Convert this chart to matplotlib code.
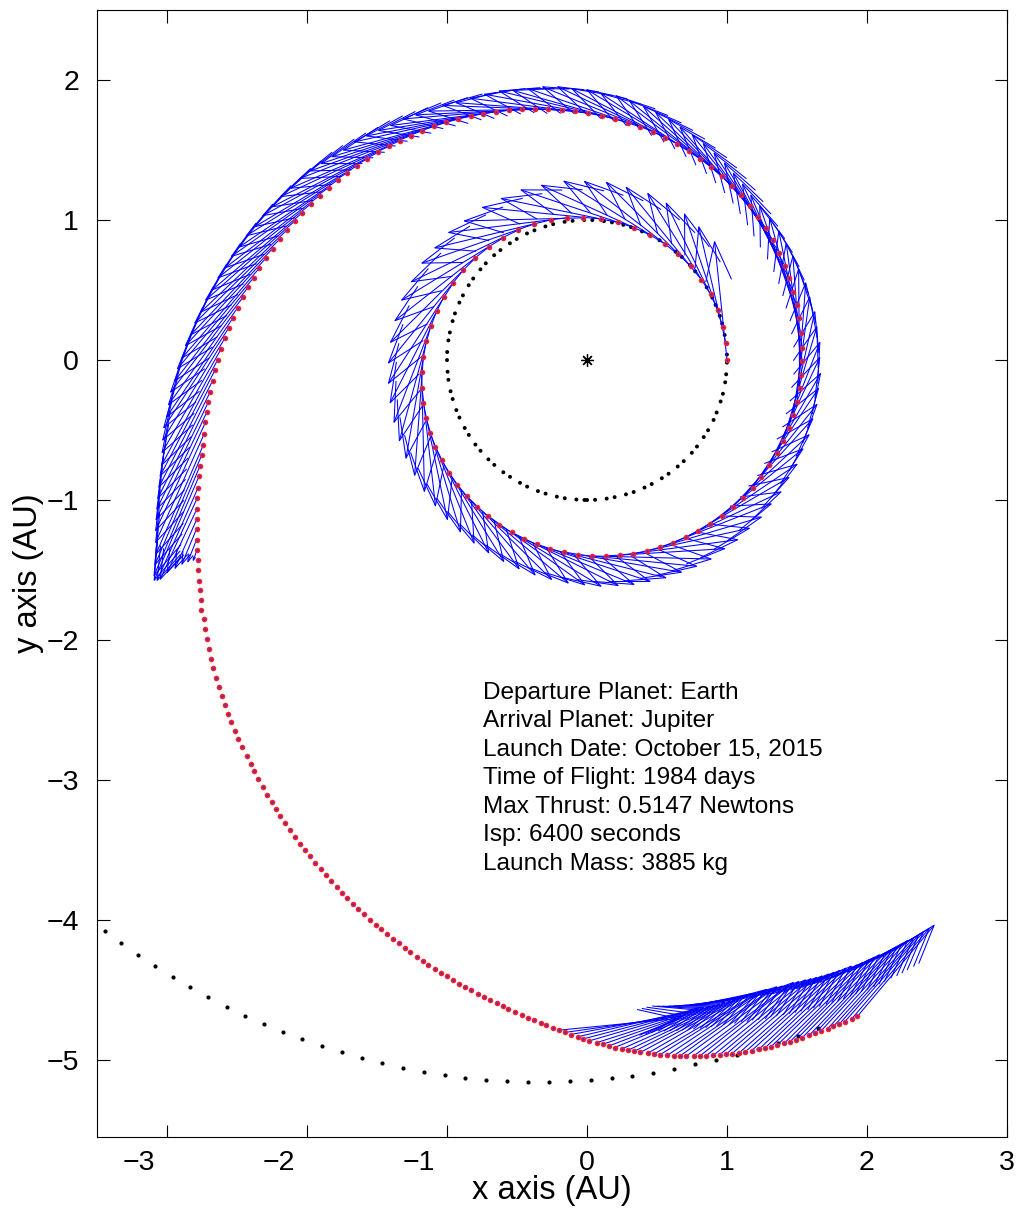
import matplotlib
matplotlib.use("Agg")
import matplotlib.pyplot as plt
from matplotlib.collections import LineCollection
from matplotlib.patches import Circle
from matplotlib.transforms import ScaledTranslation
import numpy as np

plt.rcParams['font.family'] = ['Liberation Sans', 'DejaVu Sans']
plt.rcParams['lines.scale_dashes'] = False

# --- spacecraft track, one entry per 7-day step -------------------------
# outbound spiral (thrusting): polar angle [deg, unwrapped] and radius [AU]
out_theta = [0.0, 7.1, 13.8, 20.8, 27.9, 35.1, 42.1, 49.1, 56.1, 63.4, 70.5, 77.4, 84.4, 91.5,
             98.1, 104.6, 111.2, 117.8, 124.5, 131.1, 137.8, 144.1, 150.2, 156.1, 162.0, 167.7,
             173.2, 178.8, 184.3, 189.5, 194.7, 199.8, 204.8, 209.7,
             214.5, 219.2, 223.9, 228.5, 233.1, 237.5, 241.9, 246.4, 250.6, 254.8, 259.0, 263.2,
             267.4, 271.5, 275.5, 279.5, 283.4, 287.5,
             291.4, 295.3, 299.2, 303.1, 307.0, 310.9, 314.8, 318.6, 322.4, 326.2, 330.0, 333.8,
             337.6, 341.4, 345.1, 348.8, 352.5, 356.1, 359.7, 363.3, 367.2, 371.1,
             374.7, 378.3, 382.0, 385.5, 389.2, 392.8, 396.3, 399.9, 403.3, 406.9, 410.2, 413.8,
             417.2, 420.6, 424.0, 427.3, 430.6, 433.9, 437.1, 440.3, 443.4, 446.6, 449.7, 452.8, 455.8,
             458.9, 461.8, 464.6, 467.4, 470.1, 472.8, 475.5, 478.1, 480.7, 483.2, 485.7, 488.1,
             490.5, 492.9, 495.2, 497.5, 499.8, 502.0, 504.2, 506.3, 508.4, 510.5, 512.6, 514.6,
             516.6, 518.6, 520.5, 522.4, 524.3, 526.1, 527.9, 529.7, 531.5, 533.2, 534.9, 536.6,
             538.3, 540.0,
             541.6, 543.2, 544.8, 546.3, 547.8, 549.3, 550.9, 552.5, 553.9, 555.3, 556.7, 558.2,
             559.5, 560.9, 562.2, 563.4, 564.7, 566.0]
out_r = [1.000, 0.999, 0.999, 1.001, 1.000, 0.998, 0.998, 0.997, 0.998, 1.000, 1.003, 1.007, 1.012, 1.016,
         1.026, 1.034, 1.042, 1.050, 1.058, 1.069, 1.080, 1.092, 1.103, 1.117, 1.129, 1.142,
         1.156, 1.169, 1.184, 1.195, 1.209, 1.222, 1.236, 1.248,
         1.261, 1.274, 1.287, 1.297, 1.310, 1.319, 1.334, 1.343, 1.356, 1.364, 1.375, 1.381,
         1.392, 1.400, 1.406, 1.414, 1.423, 1.430,
         1.437, 1.444, 1.451, 1.458, 1.465, 1.472, 1.479, 1.486, 1.493, 1.499, 1.505, 1.511,
         1.516, 1.521, 1.525, 1.529, 1.532, 1.535, 1.537, 1.539, 1.540, 1.541,
         1.549, 1.553, 1.558, 1.566, 1.573, 1.580, 1.588, 1.592, 1.603, 1.612, 1.620, 1.629,
         1.640, 1.648, 1.661, 1.672, 1.683, 1.698, 1.707, 1.720, 1.733, 1.748, 1.762, 1.778, 1.795,
         1.813, 1.831, 1.850, 1.870, 1.889, 1.909, 1.930, 1.951, 1.973, 1.994, 2.016, 2.037,
         2.059, 2.082, 2.104, 2.127, 2.150, 2.173, 2.196, 2.219, 2.242, 2.265, 2.289, 2.312,
         2.336, 2.359, 2.383, 2.406, 2.430, 2.452, 2.476, 2.499, 2.523, 2.546, 2.569, 2.592,
         2.615, 2.639,
         2.659, 2.679, 2.700, 2.720, 2.741, 2.762, 2.784, 2.807, 2.836, 2.866, 2.894, 2.925,
         2.953, 2.983, 3.011, 3.039, 3.070, 3.100]
# thrust pitch above the local horizontal [deg], + = outward
out_pitch = [-6, -6, -5, -5, -4, -4, -3, -3, -2, -2, -1, -1, 0, 0,
             1, 1, 2, 2, 3, 3, 3, 3, 3, 3, 3, 3, 3, 3, 3, 3, 3, 3, 3, 3,
             3, 3, 3, 3, 3, 3, 3, 3, 3, 3, 3, 3, 3, 3, 2, 2, 1, 1,
             0, 0, -1, -1, -2, -2, -3, -3, -4, -4, -5, -5, -6, -6, -7, -7, -8, -8, -8, -8, -8, -8,
             -8, -7, -6, -5, -4, -3, -2, -1, 0, 1, 2, 3,
             4, 4, 5, 5, 6, 6, 6, 6, 7, 7, 7, 7, 8,
             8, 9, 10, 10, 11, 12, 13, 13, 14, 15, 16, 17, 17, 18, 18, 19, 19, 20, 20, 21,
             21, 22, 22, 23, 23, 24, 24, 25, 25, 26, 26, 27, 27, 27, 28, 28, 28, 28,
             29, 30, 31, 32, 33, 34, 35, 36, 37, 38, 40, 42, 44, 46, 46, 46, 46, 46]
# thrust level (fraction of full), engine throttles down before the coast
out_throttle = [1.0] * 147 + [0.95, 0.85, 0.75, 0.59, 0.45, 0.32, 0.20, 0.09]

# ballistic coast out to Jupiter distance
coast_theta = [207.2, 208.4, 209.6, 210.7, 211.8, 212.9, 214.0, 215.2, 216.3, 217.4, 218.5, 219.5,
               220.6, 221.6, 222.6, 223.6, 224.6, 225.5, 226.5, 227.4, 228.3, 229.3, 230.2, 231.0,
               231.9, 232.8, 233.6, 234.5, 235.3, 236.1, 236.9, 237.7, 238.5, 239.3, 240.1, 240.8,
               241.6, 242.4, 243.1, 243.8, 244.6, 245.3, 246.0, 246.7, 247.4, 248.1, 248.8, 249.5,
               250.1, 250.8, 251.5, 252.1, 252.8, 253.4, 254.1, 254.7, 255.3, 256.0, 256.6, 257.2,
               257.8, 258.4, 259.0, 259.6, 260.2, 260.8, 261.4, 262.0, 262.6, 263.1, 263.7, 264.3,
               264.9, 265.4, 266.0, 266.5, 267.1]
coast_r = [3.128, 3.159, 3.190, 3.218, 3.248, 3.284, 3.304, 3.336, 3.368, 3.399, 3.429, 3.459,
           3.489, 3.517, 3.545, 3.572, 3.599, 3.626, 3.652, 3.678, 3.703, 3.729, 3.754, 3.780,
           3.807, 3.832, 3.856, 3.880, 3.904, 3.928, 3.951, 3.974, 3.996, 4.018, 4.041, 4.062,
           4.084, 4.105, 4.126, 4.148, 4.168, 4.189, 4.210, 4.230, 4.249, 4.268, 4.287, 4.306,
           4.324, 4.343, 4.361, 4.379, 4.397, 4.415, 4.432, 4.449, 4.466, 4.482, 4.498, 4.515,
           4.531, 4.547, 4.563, 4.578, 4.594, 4.609, 4.624, 4.639, 4.655, 4.671, 4.686, 4.701,
           4.716, 4.730, 4.745, 4.760, 4.776]

# arrival arc (thrusting again)
arr_theta = [267.6, 268.1, 268.6, 269.2, 269.7, 270.2, 270.8, 271.3,
             271.8, 272.3, 272.9, 273.4, 273.9, 274.4, 275.0, 275.5, 276.0, 276.6,
             277.1, 277.6, 278.1, 278.7, 279.2, 279.7, 280.3, 280.8, 281.3, 281.8, 282.4,
             282.9, 283.4, 284.0, 284.5, 285.0, 285.5, 286.1, 286.6, 287.1, 287.6, 288.2,
             288.7, 289.2, 289.8, 290.3, 290.8, 291.3, 291.9, 292.4]
arr_r = [4.791, 4.806, 4.820, 4.835, 4.849, 4.863, 4.877, 4.890,
         4.903, 4.915, 4.927, 4.939, 4.950, 4.961, 4.971, 4.981, 4.990, 4.999,
         5.008, 5.016, 5.023, 5.030, 5.037, 5.043, 5.048, 5.053, 5.058, 5.062, 5.066,
         5.069, 5.072, 5.074, 5.076, 5.078, 5.079, 5.080, 5.080, 5.080, 5.080, 5.079,
         5.078, 5.077, 5.076, 5.075, 5.074, 5.072, 5.071, 5.070]
arr_pitch = [-8, -10, -12, -14, -15, -16, -17, -18,
             -19, -20, -21, -22, -23, -24, -25, -25, -26, -27,
             -27, -28, -28, -28, -29, -29, -29, -29, -29, -29, -29,
             -29, -29, -29, -29, -28.5, -28.5, -28.5, -28.5, -28.5, -28, -28,
             -28, -28, -28, -27.5, -27.5, -27.5, -27.5, -27.5]
arr_throttle = [1.0] * len(arr_theta)

# Jupiter positions over the flight [AU]
jup_x = [-3.443, -3.326, -3.207, -3.086, -2.959, -2.834, -2.705, -2.574, -2.443, -2.307, -2.171,
         -2.034, -1.893, -1.750, -1.607, -1.464, -1.315, -1.166, -1.017, -0.868, -0.719, -0.570,
         -0.421, -0.272, -0.123, 0.026, 0.175, 0.324, 0.473, 0.622, 0.773, 0.923, 1.071, 1.219,
         1.364, 1.506, 1.648]
jup_y = [-4.076, -4.162, -4.248, -4.329, -4.407, -4.481, -4.552, -4.619, -4.684, -4.745, -4.800,
         -4.852, -4.900, -4.945, -4.988, -5.024, -5.056, -5.085, -5.109, -5.127, -5.141, -5.151,
         -5.156, -5.157, -5.153, -5.145, -5.131, -5.113, -5.090, -5.062, -5.030, -4.998, -4.962,
         -4.922, -4.877, -4.826, -4.772]
earth_radius = 1.0

info = ["Departure Planet: Earth",
        "Arrival Planet: Jupiter",
        "Launch Date: October 15, 2015",
        "Time of Flight: 1984 days",
        "Max Thrust: 0.5147 Newtons",
        "Isp: 6400 seconds",
        "Launch Mass: 3885 kg"]

VEC_LEN = 0.85   # plotted length of a full-thrust vector [AU]


def polar_xy(theta_deg, r):
    t = np.radians(theta_deg)
    r = np.asarray(r)
    return r * np.cos(t), r * np.sin(t)


def thrust_uv(theta_deg, pitch_deg, throttle):
    t = np.radians(theta_deg)
    p = np.radians(pitch_deg)
    k = VEC_LEN * np.asarray(throttle)
    # local horizontal (direction of motion) and radial unit vectors
    hx, hy = -np.sin(t), np.cos(t)
    rx, ry = np.cos(t), np.sin(t)
    u = k * (np.cos(p) * hx + np.sin(p) * rx)
    v = k * (np.cos(p) * hy + np.sin(p) * ry)
    return u, v


def quiver_segments(x, y, u, v, alpha=0.33, beta=0.33):
    """shaft plus two barbs per vector, like matlab's quiver"""
    segs = []
    for x0, y0, du, dv in zip(x, y, u, v):
        tx, ty = x0 + du, y0 + dv
        segs.append([(x0, y0), (tx, ty)])
        segs.append([(tx - alpha * (du + beta * dv), ty - alpha * (dv - beta * du)),
                     (tx, ty),
                     (tx - alpha * (du - beta * dv), ty - alpha * (dv + beta * du))])
    return segs


fig = plt.figure(figsize=(10.2, 12.18), dpi=100)
ax = fig.add_axes([97 / 1020, 81 / 1218, 910 / 1020, 1127 / 1218])

# earth orbit, dotted
earth = Circle((0, 0), earth_radius, fill=False, ec='black', lw=2.9,
               linestyle=(0, (0.01, 5.8, 0.01, 8.4)), zorder=2)
earth.set_capstyle('round')
ax.add_patch(earth)

ax.plot(jup_x, jup_y, 'o', color='black', ms=3.0, mec='none', zorder=2)
ax.plot([0], [0], marker=(8, 2, 0), color='black', ms=9, mew=0.9, zorder=3)

ox, oy = polar_xy(out_theta, out_r)
cx, cy = polar_xy(coast_theta, coast_r)
ax_, ay_ = polar_xy(arr_theta, arr_r)

ou, ov = thrust_uv(out_theta, out_pitch, out_throttle)
au, av = thrust_uv(arr_theta, arr_pitch, arr_throttle)
segs = quiver_segments(ox, oy, ou, ov) + quiver_segments(ax_, ay_, au, av)
ax.add_collection(LineCollection(segs, colors='#0000ff', linewidths=0.75, zorder=4))

tx = np.concatenate([ox, cx, ax_])
ty = np.concatenate([oy, cy, ay_])
ax.plot(tx, ty, 'o', color='#ff2020', ms=4.0, mec='none', zorder=5)
ax.plot(tx, ty, 'o', color='#3030ff', ms=1.6, mec='none', zorder=6)

for i, line in enumerate(info):
    ax.text(-0.745, -2.42 - i * 0.2036, line, fontsize=17.6, va='baseline', ha='left')

ax.set_xlim(-3.5, 3)
ax.set_ylim(-5.55, 2.5)
ax.set_xticks(range(-3, 4))
ax.set_yticks(range(-5, 3))
ax.tick_params(direction='in', length=9, width=0.8, top=True, right=True,
               labelsize=20.5)
ax.tick_params(axis='x', pad=9)
ax.tick_params(axis='y', pad=13)
for s in ax.spines.values():
    s.set_linewidth(0.8)
ax.set_xlabel('x axis (AU)', fontsize=23.5, labelpad=0)
ax.set_ylabel('y axis (AU)', fontsize=23.5, labelpad=2)

# negative x labels sit left of their ticks
shift = ScaledTranslation(-0.28, 0, fig.dpi_scale_trans)
for lab, val in zip(ax.get_xticklabels(), ax.get_xticks()):
    if val < 0:
        lab.set_transform(lab.get_transform() + shift)

fig.savefig('out.png', dpi=100)
